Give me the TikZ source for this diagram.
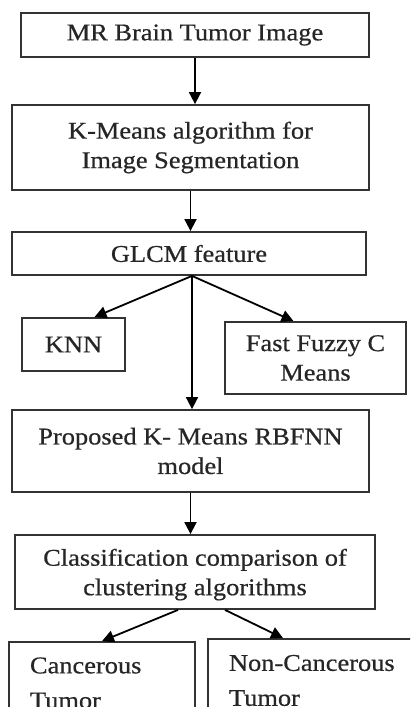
\documentclass[tikz,border=0pt]{standalone}
\usepackage{fontspec}
\setmainfont[FakeStretch=1.1,FakeBold=0.6]{Liberation Serif}
\usetikzlibrary{arrows.meta}

\begin{document}
\begin{tikzpicture}[
    x=1pt, y=-1pt,
    block/.style={draw=black!80, line width=1.8pt, align=center, inner sep=0pt,
        font=\fontsize{24}{29.5}\selectfont, text=black!85},
    outblock/.style={block, align=left, inner xsep=21pt,
        font=\fontsize{24}{35}\selectfont},
    arr/.style={draw=black, line width=1.8pt, -{Triangle[length=12pt,width=12pt]}}
]
\useasboundingbox (0,0) rectangle (410,707);
\clip (0,0) rectangle (410,707);

% Main chain
\node[block, minimum width=348pt, minimum height=44pt] (mri) at (195,35) {MR Brain Tumor Image};
\node[block, minimum width=357pt, minimum height=85pt] (seg) at (190.5,147.5) {K-Means algorithm for\\Image Segmentation};
\node[block, minimum width=354pt, minimum height=43pt] (glcm) at (189,253.5) {GLCM feature};

% Other clustering methods
\node[block, minimum width=103pt, minimum height=53pt] (knn) at (73.5,344.5) {KNN};
\node[block, minimum width=181pt, minimum height=72pt] (ffcm) at (315.5,358) {Fast Fuzzy C\\Means};

\node[block, minimum width=357pt, minimum height=82pt] (prop) at (190.5,451) {Proposed K- Means RBFNN\\model};
\node[block, minimum width=360pt, minimum height=74pt, text depth=0pt] (cls) at (195,572) {Classification comparison of\\clustering algorithms};

% Result (cut at the bottom)
\node[outblock, text width=144pt, minimum height=82pt] (canc) at (102,683) {Cancerous\\Tumor};
\node[outblock, text width=180pt, minimum height=83pt] (noncanc) at (319,680.5) {Non-Cancerous\\Tumor};

\coordinate (split) at ([xshift=3pt]glcm.south);

\draw[arr] (mri) -- (mri |- seg.north);
\draw[arr] (seg) -- (seg |- glcm.north);
\draw[arr] (split) -- ([xshift=21pt]knn.north);
\draw[arr] (split) -- ([xshift=-22pt]ffcm.north);
\draw[arr] (split) -- (split |- prop.north);
\draw[arr] (prop) -- (prop |- cls.north);
\draw[arr] ([xshift=-17pt]cls.south) -- (canc.north);
\draw[arr] ([xshift=30pt]cls.south) -- ([xshift=-36pt]noncanc.north);

\end{tikzpicture}
\end{document}
